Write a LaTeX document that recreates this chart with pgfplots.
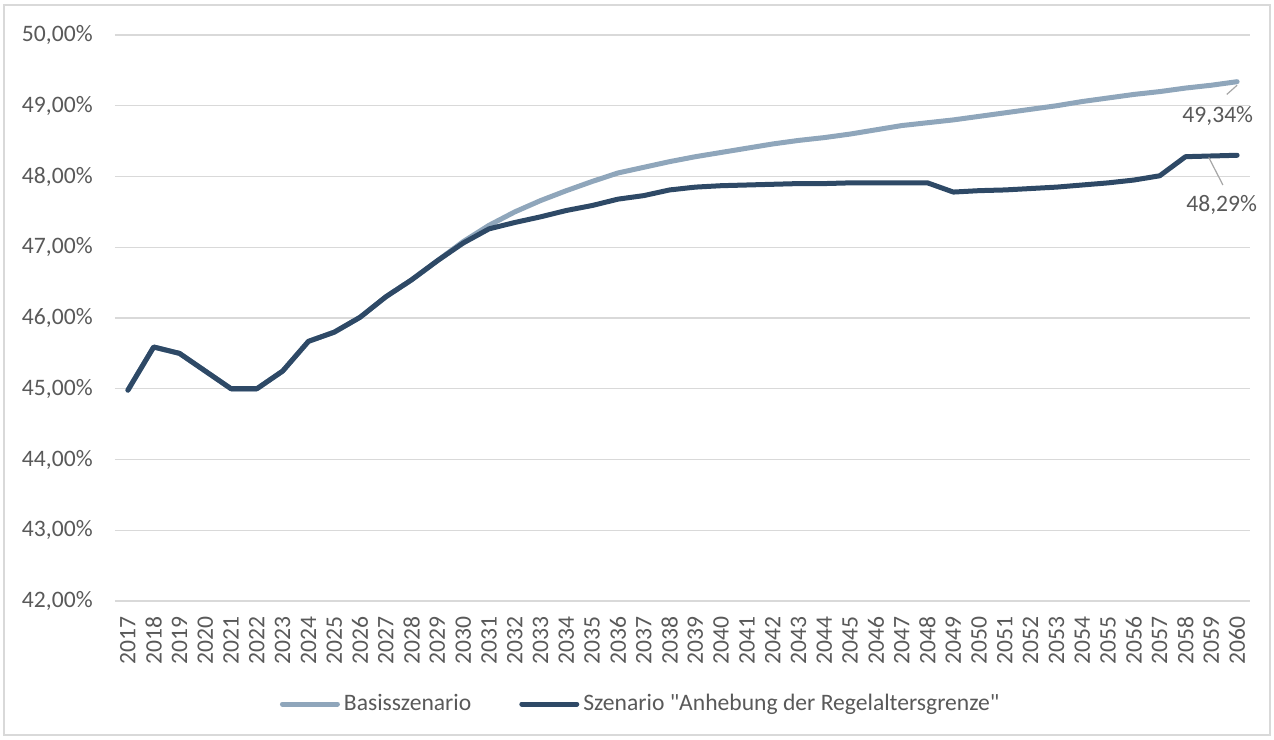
\documentclass[border=0pt]{standalone}
\usepackage{pgfplots}
\pgfplotsset{compat=1.18}
\usepackage{fontspec}
\setmainfont{Carlito}[Ligatures=TeXOff]
\definecolor{lightser}{RGB}{143,166,187}
\definecolor{darkser}{RGB}{46,73,102}
\definecolor{gridc}{RGB}{217,217,217}
\definecolor{txt}{RGB}{89,89,89}
\begin{document}
\begin{tikzpicture}
\path[use as bounding box] (0,0) rectangle (637pt,369.5pt);
\draw[gridc, line width=0.7pt] (2pt,2pt) rectangle (635pt,367pt);
\begin{axis}[
  at={(57.5pt,69pt)}, anchor=south west,
  scale only axis, width=567.5pt, height=283pt,
  xmin=2016.5, xmax=2060.5, ymin=42, ymax=50,
  xtick={2017,...,2060}, ytick={42,...,50},
  yticklabels={{42,00\%},{43,00\%},{44,00\%},{45,00\%},{46,00\%},{47,00\%},{48,00\%},{49,00\%},{50,00\%}},
  /pgf/number format/assume math mode=true,
  /pgf/number format/set thousands separator={},
  font=\fontsize{11.8pt}{14pt}\selectfont,
  tick label style={txt, font=\fontsize{11.8pt}{14pt}\selectfont},
  x tick label style={yshift=-7.5pt, rotate=90, anchor=east, inner sep=0pt},
  y tick label style={anchor=east, inner sep=0pt, xshift=-11pt},
  major tick length=0pt,
  axis line style={draw=none},
  ymajorgrids, major grid style={gridc, line width=0.7pt},
  clip=false,
  legend columns=2,
  legend style={at={(axis description cs:0.464,-0.182)}, anchor=center, draw=none, fill=none,
    text=txt, font=\fontsize{11.8pt}{14pt}\selectfont,
    /tikz/every even column/.append style={column sep=22pt}},
  legend cell align=left,
  legend image code/.code={\draw[#1, line cap=round] (0pt,0pt) -- (27.5pt,0pt);},
]
\addplot[lightser, line width=2.5pt, line join=round, line cap=round] coordinates {
(2017,44.98)(2018,45.59)(2019,45.50)(2020,45.25)(2021,45.00)(2022,45.00)(2023,45.25)(2024,45.67)(2025,45.80)(2026,46.01)(2027,46.30)(2028,46.54)(2029,46.81)(2030,47.08)(2031,47.31)(2032,47.50)(2033,47.66)(2034,47.80)(2035,47.93)(2036,48.05)(2037,48.13)(2038,48.21)(2039,48.28)(2040,48.34)(2041,48.40)(2042,48.46)(2043,48.51)(2044,48.55)(2045,48.60)(2046,48.66)(2047,48.72)(2048,48.76)(2049,48.80)(2050,48.85)(2051,48.90)(2052,48.95)(2053,49.00)(2054,49.06)(2055,49.11)(2056,49.16)(2057,49.20)(2058,49.25)(2059,49.29)(2060,49.34)};
\addlegendentry{Basisszenario}
\addplot[darkser, line width=2.5pt, line join=round, line cap=round] coordinates {
(2017,44.98)(2018,45.59)(2019,45.50)(2020,45.25)(2021,45.00)(2022,45.00)(2023,45.25)(2024,45.67)(2025,45.80)(2026,46.01)(2027,46.30)(2028,46.54)(2029,46.81)(2030,47.06)(2031,47.26)(2032,47.35)(2033,47.43)(2034,47.52)(2035,47.59)(2036,47.68)(2037,47.73)(2038,47.81)(2039,47.85)(2040,47.87)(2041,47.88)(2042,47.89)(2043,47.90)(2044,47.90)(2045,47.91)(2046,47.91)(2047,47.91)(2048,47.91)(2049,47.78)(2050,47.80)(2051,47.81)(2052,47.83)(2053,47.85)(2054,47.88)(2055,47.91)(2056,47.95)(2057,48.01)(2058,48.28)(2059,48.29)(2060,48.30)};
\addlegendentry{Szenario "Anhebung der Regelaltersgrenze"}
\draw[gray!70, line width=0.6pt] (axis cs:2060.0,49.29) -- (axis cs:2059.6,49.16);
\node[txt, font=\fontsize{11.8pt}{14pt}\selectfont] at (axis cs:2059.25,48.86) {49,34\%};
\draw[gray!70, line width=0.6pt] (axis cs:2058.9,48.27) -- (axis cs:2059.45,47.88);
\node[txt, font=\fontsize{11.8pt}{14pt}\selectfont] at (axis cs:2059.40,47.60) {48,29\%};
\end{axis}
\end{tikzpicture}
\end{document}
